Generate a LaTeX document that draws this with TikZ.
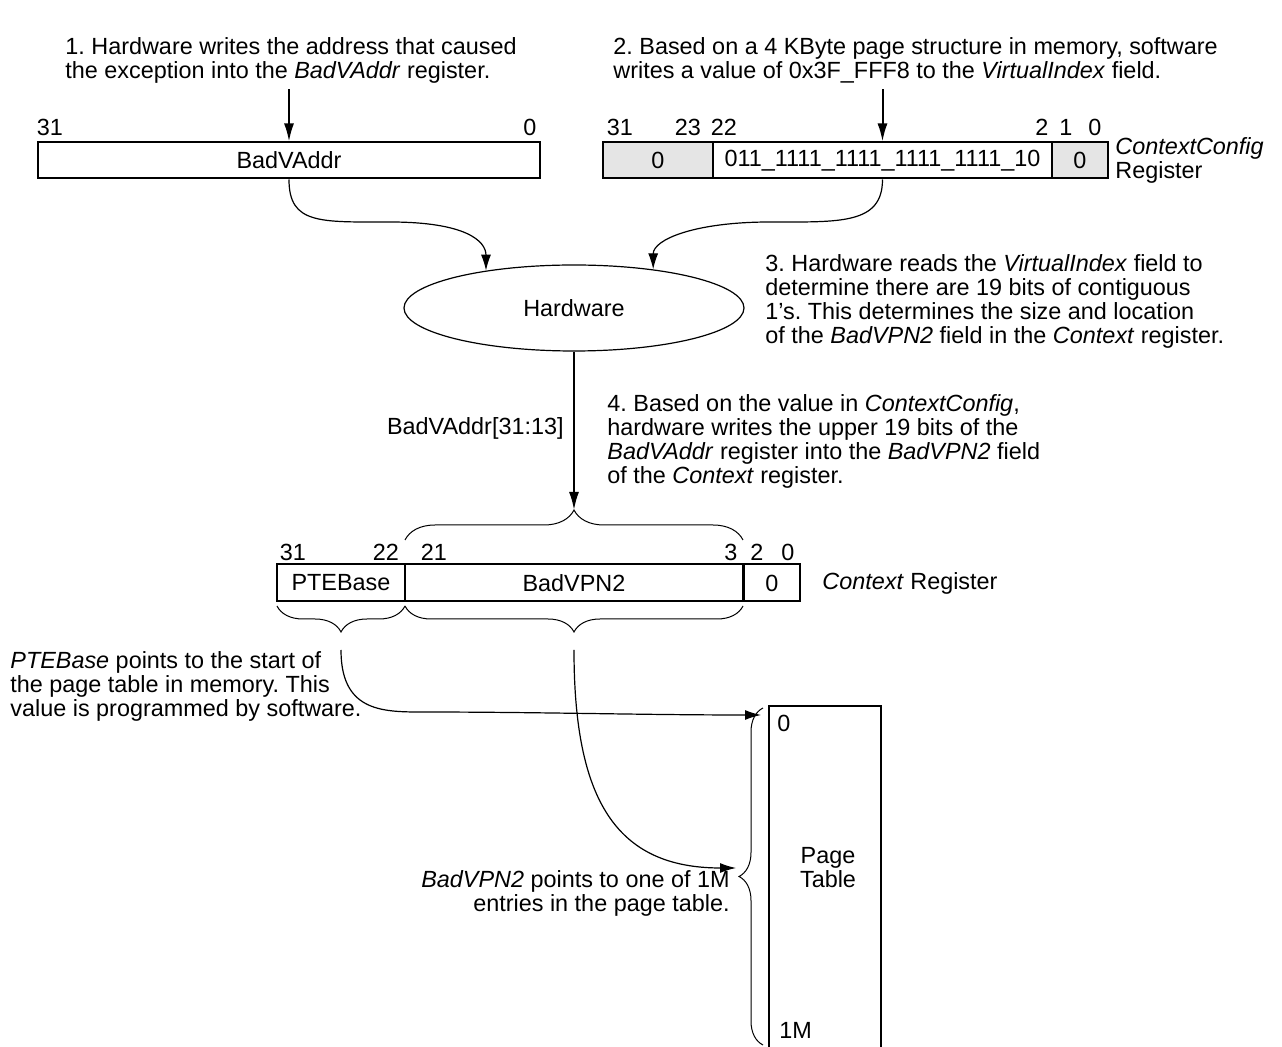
\documentclass[tikz,border=0pt]{standalone}
\usepackage{fontspec}
\setmainfont{Liberation Sans}
\usetikzlibrary{positioning,arrows.meta,shapes.geometric,decorations.pathreplacing,calc}
\frenchspacing

\begin{document}
\begin{tikzpicture}[
  x=0.5pt, y=-0.5pt,
  every node/.style={inner sep=0pt, font=\fontsize{11.7}{12}\selectfont},
  field/.style={draw, line width=1pt, minimum height=18pt, align=center},
  zero/.style={field, fill=black!10},
  note/.style={align=left, anchor=west},
  bit/.style={anchor=base},
  arr/.style={-{Latex[length=9pt,width=5pt]}, line width=1pt},
  carr/.style={-{Latex[length=8pt,width=5pt]}, line width=0.6pt},
  brc/.style={decorate, decoration={brace, amplitude=#1}, line width=0.5pt}
]
\useasboundingbox (0,0) rectangle (1282,1047);

% what happens, step by step
\node[note] (note1) at (65,60) {1. Hardware writes the address that caused\\the exception into the \textit{BadVAddr} register.};
\node[note] (note2) at (613,60) {2. Based on a 4 KByte page structure in memory, software\\writes a value of 0x3F\_FFF8 to the \textit{VirtualIndex} field.};
\node[note] (note3) at (765,301) {3. Hardware reads the \textit{VirtualIndex} field to\\determine there are 19 bits of contiguous\\1’s. This determines the size and location\\of the \textit{BadVPN2} field in the \textit{Context} register.};
\node[note] (note4) at (607,441) {4. Based on the value in \textit{ContextConfig},\\hardware writes the upper 19 bits of the\\\textit{BadVAddr} register into the \textit{BadVPN2} field\\of the \textit{Context} register.};

% BadVAddr and ContextConfig
\node[field, minimum width=251pt] (bva) at (289,160.5) {BadVAddr};
\node[zero, minimum width=55pt] (ccHigh) at (658,160.5) {0};
\node[field, minimum width=169.5pt] (ccIndex) at (882.5,160.5) {011\_1111\_1111\_1111\_1111\_10};
\node[zero, minimum width=28pt] (ccLow) at (1080,160.5) {0};
\node[note] (ccName) at (1115,160) {\textit{ContextConfig}\\Register};
\foreach \x/\n in {50/31, 530/0, 620/31, 688/23, 724/22, 1042/2, 1066/1, 1095/0}
  \node[bit] (top\x) at (\x,136) {\n};

\node[ellipse, draw, line width=0.6pt, minimum width=170pt, minimum height=43pt] (hw) at (574,308) {Hardware};

% Context register
\node[field, minimum width=64pt, minimum height=18.5pt] (pteBase) at (341,583) {PTEBase};
\node[field, minimum width=169pt, minimum height=18.5pt] (badVpn) at (574,583) {BadVPN2};
\node[field, minimum width=28pt, minimum height=18.5pt] (ctxLow) at (772,583) {0};
\node[note] (ctxName) at (822,583) {\textit{Context} Register};
\foreach \x/\n in {293/31, 386/22, 434/21, 731/3, 757/2, 788/0}
  \node[bit] (low\x) at (\x,561) {\n};
\node[anchor=east] (fieldLbl) at (564,428) {BadVAddr[31:13]};

% page table
\begin{scope}
\clip (0,0) rectangle (1282,1047);
\node[draw, line width=1pt, minimum width=56pt, minimum height=185pt, anchor=north west] (pageTab) at (768,705) {};
\end{scope}
\node[align=center] (ptName) at (828,868) {Page\\Table};
\node[anchor=west] (ptZero) at (777,723) {0};
\node[anchor=west] (ptEnd) at (779,1030) {1M};

\node[note] (pteNote) at (10,686) {\textit{PTEBase} points to the start of\\the page table in memory. This\\value is programmed by software.};
\node[align=right, anchor=east] (vpnNote) at (730,893) {\textit{BadVPN2} points to one of 1M\\entries in the page table.};

\coordinate (vpnTop) at (574,510);
\coordinate (pteTip) at (341,650);
\coordinate (vpnTip) at (574,650);
\coordinate (ptTop) at (761,715);
\coordinate (ptMid) at (736,868);

% braces
\draw[brc=15pt] (405,540) -- (743,540);
\draw[brc=13pt] (405,606) -- (277,606);
\draw[brc=13pt] (743,606) -- (405,606);
\draw[brc=12pt] (763,1045) -- (763,708);

% arrows
\draw[arr, shorten <=3pt] (note1.south -| bva.north) -- (bva.north);
\draw[arr, shorten <=3pt] (note2.south -| ccIndex.north) -- (ccIndex.north);
\draw[carr] (bva.south) .. controls +(0,45) and +(-70,0) .. (390,222) .. controls +(75,0) and +(0,-30) .. (hw.157);
\draw[carr] (ccIndex.south) .. controls +(0,45) and +(70,0) .. (770,222) .. controls +(-75,0) and +(0,-30) .. (hw.26);
\draw[arr] (hw.south) -- (vpnTop);
\draw[carr] (pteTip) .. controls +(0,60) and +(-40,0) .. (420,712) .. controls +(120,0) and +(-120,0) .. (ptTop);
\draw[carr] (vpnTip) .. controls +(0,150) and +(-120,0) .. (ptMid);
\end{tikzpicture}
\end{document}
